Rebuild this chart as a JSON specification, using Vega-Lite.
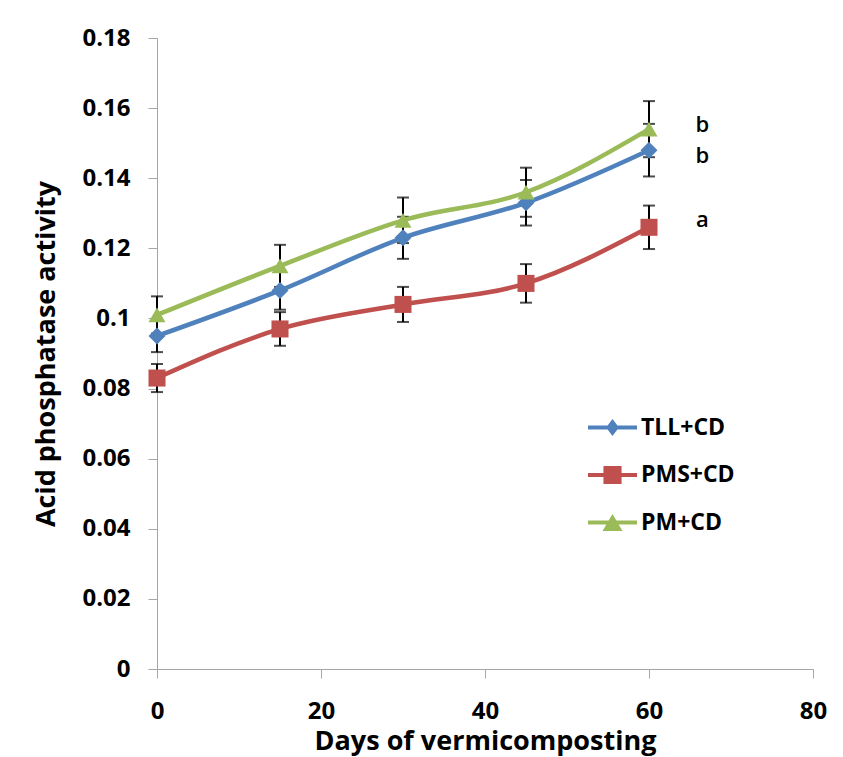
{
  "$schema": "https://vega.github.io/schema/vega-lite/v6.json",
  "width": 656,
  "height": 631,
  "autosize": {"type": "none"},
  "padding": {"left": 157, "top": 38, "right": 30, "bottom": 88},
  "background": "white",
  "config": {
    "view": {"stroke": null},
    "font": "Open Sans",
    "axis": {
      "domainColor": "#A6A6A6",
      "tickColor": "#A6A6A6",
      "tickSize": 9,
      "grid": false,
      "labelFont": "Open Sans",
      "labelFontWeight": "bold",
      "labelFontSize": 24,
      "labelColor": "black",
      "titleFont": "Open Sans",
      "titleFontWeight": "bold",
      "titleFontSize": 27,
      "titleColor": "black"
    }
  },
  "datasets": {
    "series": [
      {"series": "TLL+CD", "day": 0, "value": 0.095, "lo": 0.0904, "hi": 0.0996},
      {"series": "TLL+CD", "day": 15, "value": 0.108, "lo": 0.1025, "hi": 0.1135},
      {"series": "TLL+CD", "day": 30, "value": 0.123, "lo": 0.117, "hi": 0.129},
      {"series": "TLL+CD", "day": 45, "value": 0.133, "lo": 0.1265, "hi": 0.1395},
      {"series": "TLL+CD", "day": 60, "value": 0.148, "lo": 0.1405, "hi": 0.1555},
      {"series": "PMS+CD", "day": 0, "value": 0.083, "lo": 0.079, "hi": 0.087},
      {"series": "PMS+CD", "day": 15, "value": 0.097, "lo": 0.0922, "hi": 0.1018},
      {"series": "PMS+CD", "day": 30, "value": 0.104, "lo": 0.099, "hi": 0.109},
      {"series": "PMS+CD", "day": 45, "value": 0.110, "lo": 0.1045, "hi": 0.1155},
      {"series": "PMS+CD", "day": 60, "value": 0.126, "lo": 0.1198, "hi": 0.1322},
      {"series": "PM+CD", "day": 0, "value": 0.101, "lo": 0.0957, "hi": 0.1063},
      {"series": "PM+CD", "day": 15, "value": 0.115, "lo": 0.109, "hi": 0.121},
      {"series": "PM+CD", "day": 30, "value": 0.128, "lo": 0.1215, "hi": 0.1345},
      {"series": "PM+CD", "day": 45, "value": 0.136, "lo": 0.129, "hi": 0.143},
      {"series": "PM+CD", "day": 60, "value": 0.154, "lo": 0.146, "hi": 0.162}
    ],
    "letters": [
      {"day": 66.5, "value": 0.1552, "letter": "b"},
      {"day": 66.5, "value": 0.1462, "letter": "b"},
      {"day": 66.5, "value": 0.1282, "letter": "a"}
    ]
  },
  "layer": [
    {
      "data": {"name": "series"},
      "mark": {
        "type": "errorbar",
        "color": "black",
        "thickness": 2,
        "ticks": {"size": 12, "thickness": 2, "color": "black"}
      },
      "encoding": {
        "x": {"field": "day", "type": "quantitative", "title": "Days of vermicomposting"},
        "y": {"field": "lo", "type": "quantitative", "title": "Acid phosphatase activity"},
        "y2": {"field": "hi"}
      }
    },
    {
      "data": {"name": "series"},
      "mark": {"type": "line", "strokeWidth": 4.5, "interpolate": "monotone"},
      "encoding": {
        "x": {"field": "day", "type": "quantitative", "title": "Days of vermicomposting"},
        "y": {"field": "value", "type": "quantitative", "title": "Acid phosphatase activity"},
        "detail": {"field": "series", "type": "nominal"},
        "color": {
          "condition": [
            {"test": "datum.series === 'TLL+CD'", "value": "#4F81BD"},
            {"test": "datum.series === 'PMS+CD'", "value": "#C0504D"}
          ],
          "value": "#9BBB59"
        }
      }
    },
    {
      "data": {"name": "series"},
      "mark": {"type": "point", "filled": true, "opacity": 1, "size": 290},
      "encoding": {
        "x": {
          "field": "day",
          "type": "quantitative",
          "scale": {"domain": [0, 80], "nice": false},
          "title": "Days of vermicomposting",
          "axis": {
            "values": [0, 20, 40, 60, 80],
            "labelFlush": false,
            "labelPadding": 21,
            "titleY": 72,
            "titleBaseline": "middle"
          }
        },
        "y": {
          "field": "value",
          "type": "quantitative",
          "scale": {"domain": [0, 0.18], "nice": false, "zero": true},
          "title": "Acid phosphatase activity",
          "axis": {
            "values": [0, 0.02, 0.04, 0.06, 0.08, 0.1, 0.12, 0.14, 0.16, 0.18],
            "format": "~g",
            "labelFlush": false,
            "labelPadding": 18,
            "titleX": -111,
            "titleBaseline": "middle"
          }
        },
        "shape": {
          "condition": [
            {"test": "datum.series === 'TLL+CD'", "value": "diamond"},
            {"test": "datum.series === 'PMS+CD'", "value": "square"}
          ],
          "value": "triangle-up"
        },
        "color": {
          "condition": [
            {"test": "datum.series === 'TLL+CD'", "value": "#4F81BD"},
            {"test": "datum.series === 'PMS+CD'", "value": "#C0504D"}
          ],
          "value": "#9BBB59"
        }
      }
    },
    {
      "data": {"name": "series"},
      "mark": {"type": "point", "filled": true, "opacity": 0, "size": 0},
      "encoding": {
        "x": {"field": "day", "type": "quantitative", "title": "Days of vermicomposting"},
        "y": {"field": "value", "type": "quantitative", "title": "Acid phosphatase activity"},
        "shape": {
          "field": "series",
          "type": "nominal",
          "scale": {
            "domain": ["TLL+CD", "PMS+CD", "PM+CD"],
            "range": [
              "M-1,-0.08L-0.2,-0.08L0,-0.35L0.2,-0.08L1,-0.08L1,0.08L0.2,0.08L0,0.35L-0.2,0.08L-1,0.08Z",
              "M-1,-0.08L-0.37,-0.08L-0.37,-0.37L0.37,-0.37L0.37,-0.08L1,-0.08L1,0.08L0.37,0.08L0.37,0.37L-0.37,0.37L-0.37,0.08L-1,0.08Z",
              "M-1,-0.08L-0.158,-0.08L0,-0.35L0.158,-0.08L1,-0.08L1,0.08L0.252,0.08L0.41,0.35L-0.41,0.35L-0.252,0.08L-1,0.08Z"
            ]
          }
        },
        "color": {
          "field": "series",
          "type": "nominal",
          "scale": {"domain": ["TLL+CD", "PMS+CD", "PM+CD"], "range": ["#4F81BD", "#C0504D", "#9BBB59"]},
          "legend": {
            "orient": "none",
            "legendX": 431,
            "legendY": 365,
            "title": null,
            "padding": 0,
            "rowPadding": 10.5,
            "symbolSize": 2400,
            "symbolStrokeWidth": 0,
            "symbolOpacity": 1,
            "labelOffset": 4,
            "labelFont": "Open Sans",
            "labelFontWeight": "bold",
            "labelFontSize": 23,
            "labelColor": "black",
            "encode": {
              "symbols": {
                "update": {
                  "opacity": {"value": 1},
                  "fillOpacity": {"value": 1}
                }
              }
            }
          }
        }
      }
    },
    {
      "data": {"name": "letters"},
      "mark": {"type": "text", "font": "Open Sans", "fontSize": 22, "fontWeight": 600, "color": "black", "align": "center", "baseline": "middle"},
      "encoding": {
        "x": {"field": "day", "type": "quantitative"},
        "y": {"field": "value", "type": "quantitative"},
        "text": {"field": "letter"}
      }
    }
  ]
}
